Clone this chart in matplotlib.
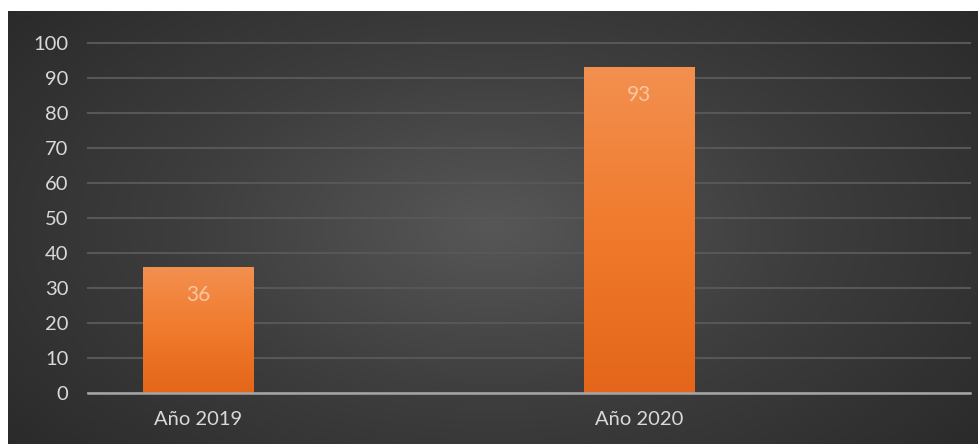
import numpy as np
import matplotlib.pyplot as plt
from matplotlib.colors import LinearSegmentedColormap

# datos
categorias = ['Año 2019', '', 'Año 2020', '']
valores = [36, 0, 93, 0]
etiquetas = ['36', '', '93', '']
yticks = list(range(0, 101, 10))

plt.rcParams['font.family'] = ['Lato', 'DejaVu Sans']

W, H = 979, 444
fig = plt.figure(figsize=(W / 100, H / 100), dpi=100, facecolor='white')

# fondo oscuro con degradado radial
bg = fig.add_axes([8 / W, 0, 1 - 8 / W, 433 / H])
bg.axis('off')
xx, yy = np.meshgrid(np.linspace(-1, 1, 400), np.linspace(-1, 1, 200))
r = np.sqrt(xx ** 2 + (yy * 0.8) ** 2)
cmap_bg = LinearSegmentedColormap.from_list('bg', ['#575757', '#3d3d3d', '#2a2a2a'])
bg.imshow(r, cmap=cmap_bg, vmin=0, vmax=1.3, aspect='auto',
          extent=(0, 1, 0, 1), interpolation='bicubic')
bg.set_xlim(0, 1)
bg.set_ylim(0, 1)

ax = fig.add_axes([88 / W, 51.3 / H, (970 - 88) / W, 350 / H])
ax.patch.set_alpha(0)

x = np.arange(len(categorias))
barras = ax.bar(x, valores, width=0.5, color='#ed7d31', zorder=3)

# degradado vertical dentro de cada barra
cmap_bar = LinearSegmentedColormap.from_list('bar', ['#e4661a', '#f07a2d', '#f3904f'])
grad = np.linspace(0, 1, 256).reshape(-1, 1)
for b in barras:
    if b.get_height() <= 0:
        continue
    x0, w, h = b.get_x(), b.get_width(), b.get_height()
    im = ax.imshow(grad, cmap=cmap_bar, origin='lower', aspect='auto',
                   extent=(x0, x0 + w, 0, h), zorder=4)
    im.set_clip_path(b)

for b, t in zip(barras, etiquetas):
    if t:
        ax.text(b.get_x() + b.get_width() / 2, b.get_height() - 8, t,
                ha='center', va='center', fontsize=15, color='#f8c6a2', zorder=5)

ax.set_xlim(-0.5, 3.5)
ax.set_ylim(0, 100)
ax.set_yticks(yticks)
ax.set_xticks(x)
ax.set_xticklabels(categorias)
ax.yaxis.grid(True, color='#575757', linewidth=1.5, zorder=1)
ax.set_axisbelow(True)
for s in ['top', 'right', 'left']:
    ax.spines[s].set_visible(False)
ax.spines['bottom'].set_color('#a6a6a6')
ax.spines['bottom'].set_linewidth(1.8)
ax.spines['bottom'].set_zorder(6)
ax.tick_params(axis='both', length=0, colors='#d9d9d9', labelsize=14.5)
ax.tick_params(axis='y', pad=14)
ax.tick_params(axis='x', pad=13)
for g in ax.get_ygridlines():
    g.set_clip_on(False)

fig.savefig('out.png', dpi=100, facecolor='white')
